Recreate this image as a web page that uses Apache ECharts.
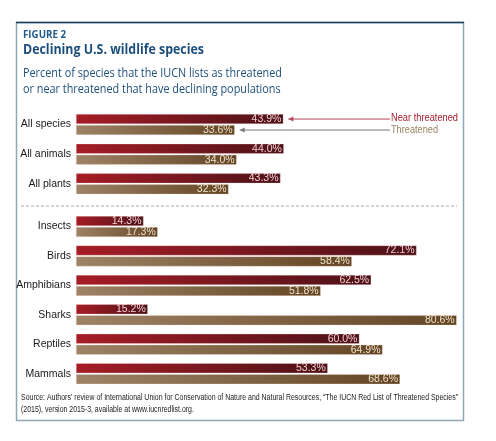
<!DOCTYPE html>
<html>
<head>
<meta charset="utf-8">
<script src="https://cdn.jsdelivr.net/npm/echarts@6/dist/echarts.min.js"></script>
<style>
html, body { margin: 0; padding: 0; background: #fff; }
#chartDiv { width: 496px; height: 441px; }
</style>
</head>
<body>
<div id="chartDiv"></div>
<script>
// 数据
var groupTop = ['All species', 'All animals', 'All plants'];
var groupBottom = ['Insects', 'Birds', 'Amphibians', 'Sharks', 'Reptiles', 'Mammals'];
var nearTop = [43.9, 44.0, 43.3];
var threatTop = [33.6, 34.0, 32.3];
var nearBottom = [14.3, 72.1, 62.5, 15.2, 60.0, 53.3];
var threatBottom = [17.3, 58.4, 51.8, 80.6, 64.9, 68.6];
var seriesNames = ['Near threatened', 'Threatened'];

var FONT = "'Liberation Sans', Arial, sans-serif";
var HEAD = "'Open Sans', sans-serif";
var xMax = Math.max.apply(null, nearTop.concat(threatTop, nearBottom, threatBottom));

// 用 canvas 量文字宽度, 压扁成窄体字
var ctx = document.createElement('canvas').getContext('2d');
function fitText(x, y, text, font, color, width, lh) {
    ctx.font = font;
    var w = Math.max.apply(null, text.split('\n').map(function (s) { return ctx.measureText(s).width; }));
    return {
        type: 'text', x: x, y: y, scaleX: width / w, silent: true,
        style: { text: text, font: font, fill: color, lineHeight: lh || null, verticalAlign: 'top' }
    };
}

var redGrad = new echarts.graphic.LinearGradient(0, 0, 1, 0, [
    { offset: 0, color: '#a61d26' },
    { offset: 1, color: '#4c1218' }
]);
var brownGrad = new echarts.graphic.LinearGradient(0, 0, 1, 0, [
    { offset: 0, color: '#9e8367' },
    { offset: 1, color: '#634523' }
]);

function barSeries(name, idx, data, grad, labelColor) {
    return {
        name: name,
        type: 'bar',
        xAxisIndex: idx,
        yAxisIndex: idx,
        barWidth: 10,
        barGap: '10%',
        data: data,
        itemStyle: { color: grad, borderColor: 'rgba(255,225,225,0.6)', borderWidth: 0.5 },
        label: {
            show: true,
            position: 'insideRight',
            distance: 2,
            formatter: function (p) { return p.value.toFixed(1) + '%'; },
            fontFamily: FONT,
            fontSize: 10.5,
            color: labelColor
        },
        silent: true
    };
}

function xAx(idx) {
    return { gridIndex: idx, type: 'value', min: 0, max: xMax, show: false };
}
function yAx(idx, cats) {
    return {
        gridIndex: idx, type: 'category', inverse: true, data: cats,
        axisLine: { show: false }, axisTick: { show: false },
        axisLabel: { fontFamily: FONT, fontSize: 10.5, color: '#1a1a1a', margin: 5 }
    };
}

var option = {
    animation: false,
    grid: [
        { left: 76, width: 380.7, top: 109.7, height: 89 },
        { left: 76, width: 380.7, top: 211.8, height: 176.6 }
    ],
    xAxis: [xAx(0), xAx(1)],
    yAxis: [yAx(0, groupTop), yAx(1, groupBottom)],
    series: [
        barSeries(seriesNames[0], 0, nearTop, redGrad, '#f3cfd2'),
        barSeries(seriesNames[1], 0, threatTop, brownGrad, '#efe1cc'),
        barSeries(seriesNames[0], 1, nearBottom, redGrad, '#f3cfd2'),
        barSeries(seriesNames[1], 1, threatBottom, brownGrad, '#efe1cc')
    ],
    graphic: [
        { type: 'rect', shape: { x: 16.5, y: 22.5, width: 447, height: 398 },
          style: { fill: 'none', stroke: '#8ea8b6', lineWidth: 1.5 }, silent: true },
        { type: 'line', shape: { x1: 16, y1: 22.5, x2: 464, y2: 22.5 },
          style: { stroke: '#1d3c5a', lineWidth: 1.5 }, silent: true },
        fitText(23, 30, 'FIGURE 2', 'bold 10px ' + HEAD, '#1f5a8a', 43),
        fitText(23, 42, 'Declining U.S. wildlife species', 'bold 15px ' + HEAD, '#1d4f7c', 181),
        fitText(23, 66, 'Percent of species that the IUCN lists as threatened\nor near threatened that have declining populations',
                '12px ' + HEAD, '#1d4f7c', 259, 16),
        { type: 'line', shape: { x1: 21, y1: 206, x2: 457, y2: 206 },
          style: { stroke: '#a9a9a9', lineWidth: 1, lineDash: [3, 2] }, silent: true },
        fitText(21, 392, 'Source: Authors\u2019 review of International Union for Conservation of Nature and Natural Resources, \u201cThe IUCN Red List of Threatened Species\u201d\n(2015), version 2015-3, available at www.iucnredlist.org.',
                '8.5px ' + FONT, '#222', 437, 12)
    ]
};

var myChart = echarts.init(document.getElementById('chartDiv'));
myChart.setOption(option);

// 图例箭头: 指向第一组的两根柱子
var pNear = myChart.convertToPixel({ gridIndex: 0 }, [nearTop[0], 0]);
var pThreat = myChart.convertToPixel({ gridIndex: 0 }, [threatTop[0], 0]);
var legendX = 391;
function arrow(x0, y, color) {
    return [
        { type: 'line', shape: { x1: x0, y1: y, x2: legendX - 1, y2: y }, style: { stroke: color, lineWidth: 1 }, silent: true },
        { type: 'polygon', shape: { points: [[x0, y], [x0 + 5, y - 2.5], [x0 + 5, y + 2.5]] }, style: { fill: color }, silent: true }
    ];
}
var extra = []
    .concat(arrow(pNear[0] + 5, pNear[1] - 5.5, '#b3495b'))
    .concat(arrow(pThreat[0] + 5, pThreat[1] + 5.5, '#7a7a7a'))
    .concat([
        fitText(legendX, pNear[1] - 12.5, seriesNames[0], '11.5px ' + FONT, '#a3222f', 67),
        fitText(legendX, pThreat[1] - 1, seriesNames[1], '11.5px ' + FONT, '#9a8062', 47)
    ]);
myChart.setOption({ graphic: option.graphic.concat(extra) });
</script>
</body>
</html>
